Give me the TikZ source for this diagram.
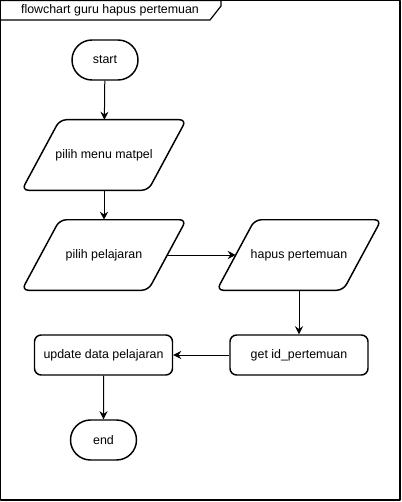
\documentclass[tikz,border=0pt]{standalone}
\usepackage{fontspec}
\setmainfont{Liberation Sans}
\usetikzlibrary{shapes.misc,arrows.meta}
\tikzset{
  term/.style={draw, line width=1.1pt, rounded rectangle, minimum width=66*0.75pt, minimum height=40*0.75pt, inner sep=0pt},
  io/.style={rectangle, minimum width=126*0.75pt, minimum height=70*0.75pt, inner sep=0pt},
  ioline/.style={line width=1.1pt, rounded corners=5pt},
  proc/.style={draw, line width=1.1pt, rectangle, rounded corners=5pt, minimum width=138*0.75pt, minimum height=40*0.75pt, inner sep=0pt},
  flow/.style={-{Stealth[length=6pt,width=6pt,inset=2pt]}, line width=0.75pt}
}
\begin{document}
\begin{tikzpicture}[x=0.75pt, y=-0.75pt, font=\fontsize{9.3}{11}\selectfont, line join=round]
		\useasboundingbox (0,0) rectangle (401,502);
		% frame with title tab
		\draw[line width=0.9pt] (0.5,0.5) rectangle (400,500);
		\draw[line width=0.9pt] (0.5,0.5) -- (221,0.5) -- (221,6) -- (210,20) -- (0.5,20);
		\node (title) at (110,10) {flowchart guru hapus pertemuan};
		% nodes
		\node[term] (start) at (105,60) {start};
		\node[io] (menu) at (104,155) {pilih menu matpel};
		\node[io] (pelajaran) at (104,255) {pilih pelajaran};
		\node[io] (hapus) at (299,255) {hapus pertemuan};
		\node[proc] (getid) at (299,355) {get id\_pertemuan};
		\node[proc] (update) at (103.5,355) {update data pelajaran};
		\node[term] (end) at (103.5,440) {end};
		% parallelogram outlines
		\foreach \n in {menu,pelajaran,hapus}
			\draw[ioline] ([xshift=-19*0.75pt]\n.south west) -- ([xshift=19*0.75pt]\n.north west) -- ([xshift=19*0.75pt]\n.north east) -- ([xshift=-19*0.75pt]\n.south east) -- cycle;
		% connectors
		\draw[flow] (start) -- (menu);
		\draw[flow] (menu) -- (pelajaran);
		\draw[flow] (pelajaran) -- (hapus);
		\draw[flow] (hapus) -- (getid);
		\draw[flow] (getid) -- (update);
		\draw[flow] (update) -- (end);
	\end{tikzpicture}
\end{document}
